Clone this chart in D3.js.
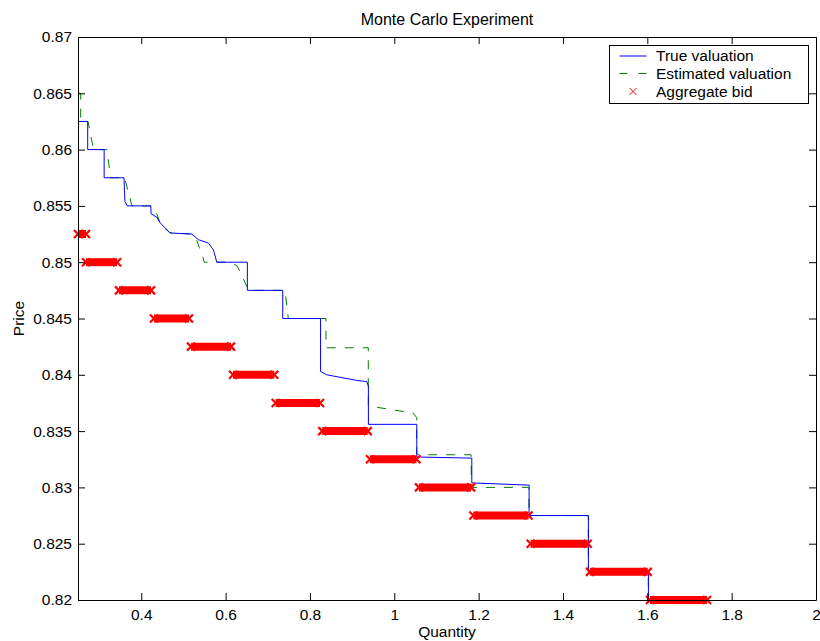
<!DOCTYPE html>
<html>
<head>
<meta charset="utf-8">
<script src="https://cdn.jsdelivr.net/npm/d3@7"></script>
<style>
  body { margin: 0; background: #fff; }
  svg text { font-family: "Liberation Sans", Arial, Helvetica, sans-serif; fill: #000; }
</style>
</head>
<body>
<div id="chart"></div>
<script>
// True valuation (step curve)
const trueQty = [0.25, 0.25, 0.273, 0.273, 0.312, 0.312, 0.359, 0.3613, 0.3668, 0.4226, 0.4233, 0.4368, 0.4446, 0.4683,
    0.5198, 0.5355, 0.5592, 0.5711, 0.5791, 0.6516, 0.6516, 0.7355, 0.7355, 0.8252, 0.8252, 0.84, 0.9111, 0.9348,
    0.9386, 0.9386, 1.0534, 1.0534, 1.1838, 1.1838, 1.3197, 1.3197, 1.4603, 1.4603, 1.6026, 1.6026];
const truePrice = [0.8644, 0.8625, 0.8625, 0.86, 0.86, 0.8575, 0.8575, 0.8554, 0.855, 0.855, 0.8543, 0.854, 0.8535, 0.8526,
    0.8525, 0.852, 0.8517, 0.8511, 0.85, 0.85, 0.8475, 0.8475, 0.845, 0.845, 0.8403, 0.84, 0.8395, 0.8394,
    0.839, 0.8356, 0.8356, 0.8327, 0.8326, 0.8304, 0.8302, 0.8275, 0.8275, 0.8225, 0.8225, 0.82];

// Estimated valuation
const estQty = [0.25, 0.2564, 0.2564, 0.2737, 0.2868, 0.3188, 0.3271, 0.3603, 0.3781, 0.4231, 0.4366, 0.4468, 0.4563,
    0.4682, 0.5203, 0.5322, 0.5377, 0.5458, 0.549, 0.6057, 0.627, 0.6413, 0.6508, 0.6602, 0.7409, 0.7487, 0.838,
    0.838, 0.9384, 0.9384, 0.9614, 1.0444, 1.0532, 1.0532, 1.058, 1.182, 1.183, 1.3183, 1.3195, 1.3195, 1.4601,
    1.4601, 1.6024, 1.6024];
const estPrice = [0.865, 0.865, 0.8625, 0.8625, 0.86, 0.86, 0.8575, 0.8575, 0.855, 0.855, 0.8543, 0.8533, 0.853,
    0.8526, 0.8525, 0.8519, 0.8513, 0.8505, 0.85, 0.85, 0.8497, 0.8486, 0.8478, 0.8475, 0.8475, 0.845, 0.845,
    0.8424, 0.8424, 0.8373, 0.8371, 0.8366, 0.8362, 0.833, 0.8329, 0.8329, 0.83, 0.83, 0.8299, 0.8275, 0.8275,
    0.8225, 0.8225, 0.82];

// Aggregate bid: one price level per run of markers
const bidPrice = [0.8525, 0.85, 0.8475, 0.845, 0.8425, 0.84, 0.8375, 0.835, 0.8325, 0.83, 0.8275, 0.825, 0.8225, 0.82];
const bidFrom = [0.25, 0.269, 0.3472, 0.4302, 0.518, 0.6176, 0.7188, 0.8293, 0.9424, 1.0586, 1.1874, 1.3235, 1.4641, 1.6064];
const bidTo = [0.269, 0.3425, 0.4231, 0.5132, 0.6128, 0.7155, 0.8239, 0.937, 1.0527, 1.182, 1.3183, 1.4587, 1.601, 1.7416];

const qtyTicks = [0.4, 0.6, 0.8, 1, 1.2, 1.4, 1.6, 1.8, 2];
const qtyLabels = ['0.4', '0.6', '0.8', '1', '1.2', '1.4', '1.6', '1.8', '2'];
const priceTicks = [0.82, 0.825, 0.83, 0.835, 0.84, 0.845, 0.85, 0.855, 0.86, 0.865, 0.87];
const priceLabels = ['0.82', '0.825', '0.83', '0.835', '0.84', '0.845', '0.85', '0.855', '0.86', '0.865', '0.87'];

const legendItems = ['True valuation', 'Estimated valuation', 'Aggregate bid'];

const margin = { top: 37, right: 4, bottom: 41, left: 78 };
const width = 820 - margin.left - margin.right;
const height = 641 - margin.top - margin.bottom;

const svg = d3.select('#chart').append('svg')
    .attr('width', 820)
    .attr('height', 641);

const g = svg.append('g')
    .attr('transform', `translate(${margin.left},${margin.top})`);

const x = d3.scaleLinear().domain([0.25, 2]).range([0, width]);
const y = d3.scaleLinear().domain([0.82, 0.87]).range([height, 0]);

g.append('clipPath').attr('id', 'plotClip')
    .append('rect').attr('width', width).attr('height', height);

// Lines
const line = d3.line().x(d => x(d[0])).y(d => y(d[1]));
const truePts = trueQty.map((q, i) => [q, truePrice[i]]);
const estPts = estQty.map((q, i) => [q, estPrice[i]]);

const plot = g.append('g').attr('clip-path', 'url(#plotClip)');

plot.append('path')
    .datum(estPts)
    .attr('d', line)
    .attr('fill', 'none')
    .attr('stroke', '#008000')
    .attr('stroke-width', 1)
    .attr('stroke-dasharray', '9,9');

plot.append('path')
    .datum(truePts)
    .attr('d', line)
    .attr('fill', 'none')
    .attr('stroke', '#0000ff')
    .attr('stroke-width', 1);

// Aggregate bid (dense x markers -> thick run with x ends)
const bids = bidPrice.map((p, i) => ({ p, from: bidFrom[i], to: bidTo[i] }));
const m = 4;
g.selectAll('.bid-run')
    .data(bids)
    .enter()
    .append('line')
    .attr('x1', d => x(d.from))
    .attr('x2', d => x(d.to))
    .attr('y1', d => y(d.p))
    .attr('y2', d => y(d.p))
    .attr('stroke', '#ff0000')
    .attr('stroke-width', 2 * m);

const ends = bids.flatMap(d => [[d.from, d.p], [d.to, d.p]]);
g.selectAll('.bid-end')
    .data(ends)
    .enter()
    .append('path')
    .attr('d', d => {
        const cx = x(d[0]), cy = y(d[1]);
        return `M${cx - m},${cy - m}L${cx + m},${cy + m}M${cx - m},${cy + m}L${cx + m},${cy - m}`;
    })
    .attr('stroke', '#ff0000')
    .attr('stroke-width', 2.2)
    .attr('fill', 'none');

// Axes (MATLAB box with inward ticks)
g.append('g')
    .attr('transform', `translate(0,${height})`)
    .call(d3.axisBottom(x).tickValues(qtyTicks).tickFormat((d, i) => qtyLabels[i])
        .tickSizeInner(-7).tickSizeOuter(0).tickPadding(9));
g.append('g')
    .call(d3.axisTop(x).tickValues(qtyTicks).tickFormat('').tickSizeInner(-7).tickSizeOuter(0));
g.append('g')
    .call(d3.axisLeft(y).tickValues(priceTicks).tickFormat((d, i) => priceLabels[i])
        .tickSizeInner(-7).tickSizeOuter(0).tickPadding(6));
g.append('g')
    .attr('transform', `translate(${width},0)`)
    .call(d3.axisRight(y).tickValues(priceTicks).tickFormat('').tickSizeInner(-7).tickSizeOuter(0));

g.selectAll('.domain').attr('stroke', '#000');
g.selectAll('.tick line').attr('stroke', '#000');
g.selectAll('.tick text')
    .style('font-family', '"Liberation Sans", Arial, sans-serif')
    .style('font-size', '15.5px');

// Titles
svg.append('text')
    .attr('x', margin.left + width / 2)
    .attr('y', 25)
    .attr('text-anchor', 'middle')
    .style('font-size', '16px')
    .text('Monte Carlo Experiment');

svg.append('text')
    .attr('x', margin.left + width / 2)
    .attr('y', 637)
    .attr('text-anchor', 'middle')
    .style('font-size', '15.5px')
    .text('Quantity');

svg.append('text')
    .attr('transform', `translate(24,${margin.top + height / 2}) rotate(-90)`)
    .attr('text-anchor', 'middle')
    .style('font-size', '15.5px')
    .text('Price');

// Legend
const legend = svg.append('g').attr('transform', 'translate(609.5,45.5)');
legend.append('rect')
    .attr('width', 199)
    .attr('height', 58)
    .attr('fill', '#fff')
    .attr('stroke', '#000');

const rowY = [10.5, 28, 46];
legend.append('line')
    .attr('x1', 10).attr('x2', 37).attr('y1', rowY[0]).attr('y2', rowY[0])
    .attr('stroke', '#0000ff');
legend.append('line')
    .attr('x1', 10).attr('x2', 37).attr('y1', rowY[1]).attr('y2', rowY[1])
    .attr('stroke', '#008000').attr('stroke-dasharray', '8,11');
legend.append('path')
    .attr('d', `M${23.5 - 3.5},${rowY[2] - 3.5}L${23.5 + 3.5},${rowY[2] + 3.5}M${23.5 - 3.5},${rowY[2] + 3.5}L${23.5 + 3.5},${rowY[2] - 3.5}`)
    .attr('stroke', '#ff0000')
    .attr('fill', 'none');

legend.selectAll('.legend-text')
    .data(legendItems)
    .enter()
    .append('text')
    .attr('x', 46.5)
    .attr('y', (d, i) => rowY[i])
    .attr('dy', '0.35em')
    .style('font-size', '15.5px')
    .text(d => d);
</script>
</body>
</html>
